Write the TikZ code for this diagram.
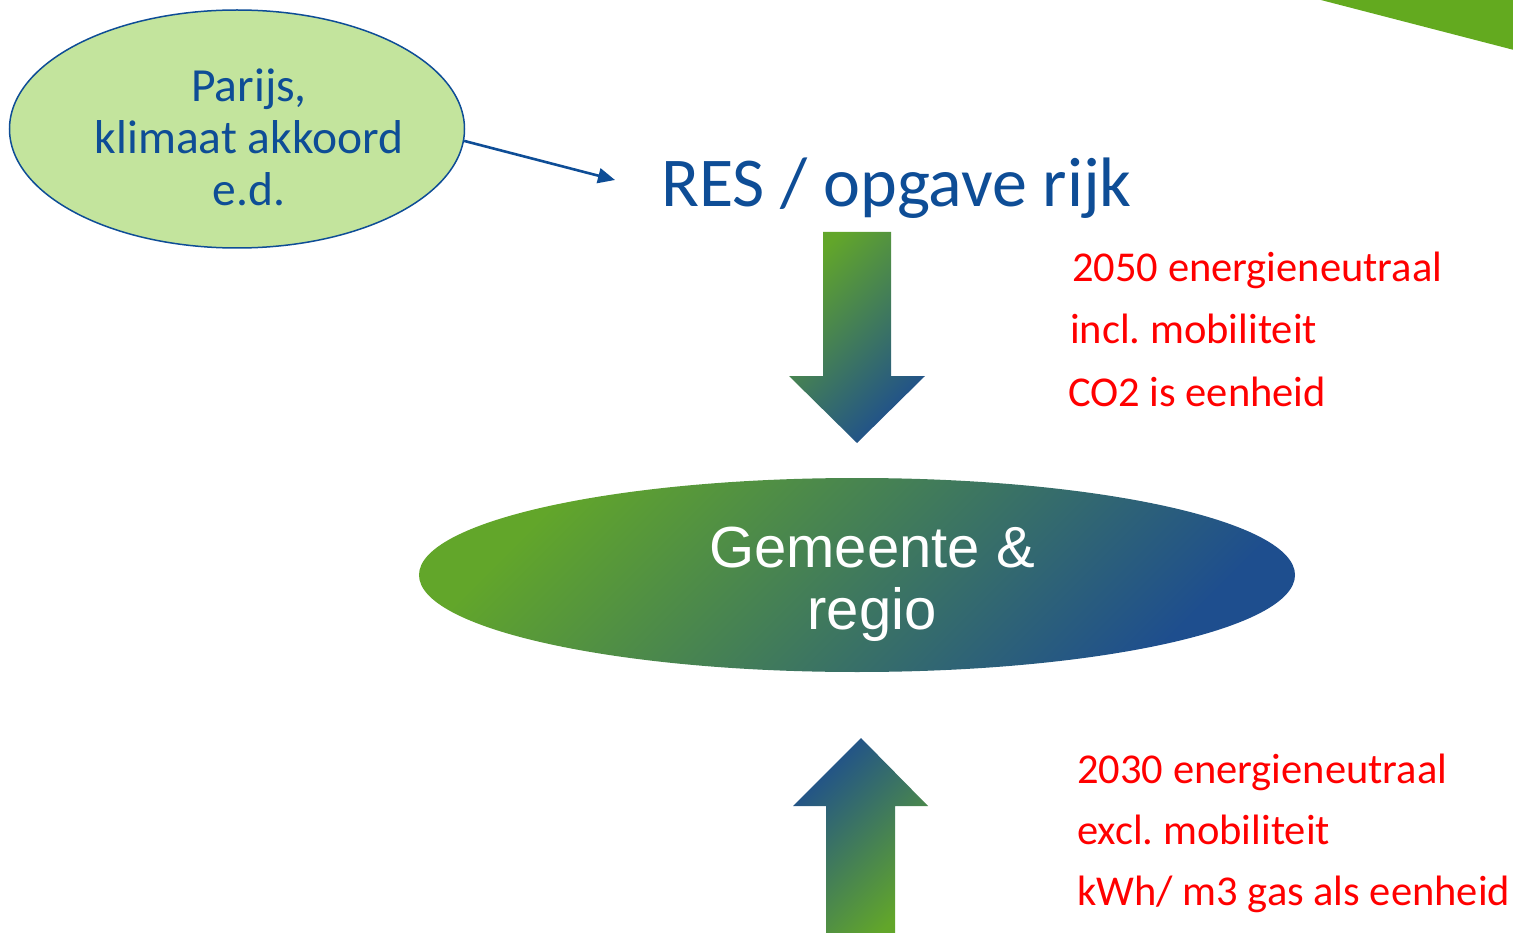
\documentclass[tikz,border=0pt]{standalone}
\usepackage{fontspec}
\setmainfont{Carlito}
\newfontfamily\arialf{Liberation Sans}
\usetikzlibrary{shapes.geometric,arrows.meta}
\frenchspacing
\definecolor{dblue}{RGB}{14,77,150}
\definecolor{lgreen}{RGB}{195,228,157}
\definecolor{grn}{RGB}{98,166,42}
\definecolor{blu}{RGB}{30,78,142}
\definecolor{cornergreen}{RGB}{99,170,31}
\definecolor{redtxt}{RGB}{255,0,0}
\tikzset{
  bluetxt/.style={text=dblue, inner sep=0pt},
  redline/.style={text=redtxt, inner sep=0pt, anchor=base west, font=\fontsize{42.5}{50}\selectfont},
}
\begin{document}
\begin{tikzpicture}[x=1pt,y=-1pt]
\frenchspacing
\useasboundingbox (0,0) rectangle (1513,933);
% corner triangle
\fill[cornergreen] (1317,-1) -- (1514,-1) -- (1514,50) -- cycle;
% Parijs ellipse
\node[ellipse, draw=dblue, line width=1.5pt, fill=lgreen, minimum width=455pt, minimum height=238pt, inner sep=0pt] (parijs) at (237,129) {};
\node[bluetxt, anchor=base, align=center, font=\fontsize{47.5}{52}\selectfont] (parijstxt) at (249,206) {Parijs,\\klimaat akkoord\\e.d.};
% RES
\node[bluetxt, anchor=base west, font=\fontsize{70}{84}\selectfont] (res) at (661,207) {RES / opgave rijk};
\coordinate (restip) at (615,180);
\draw[dblue, line width=2.6pt, -{Triangle[length=17pt,width=15pt]}] (parijs.-3.3) -- (restip);
% down arrow
\shade[top color=grn, bottom color=blu, shading angle=45]
  (823,232) -- (891,232) -- (891,376) -- (925,376) -- (857,443) -- (789,376) -- (823,376) -- cycle;
% central ellipse
\shade[top color=grn, bottom color=blu, shading angle=45] (857,575) ellipse [x radius=438, y radius=97];
\node[text=white, inner sep=0pt, anchor=base, align=center, font=\arialf\fontsize{58}{62}\selectfont] (gem) at (872,629) {Gemeente \&\\regio};
% up arrow
\shade[top color=blu, bottom color=grn, shading angle=45]
  (861,738) -- (928,806) -- (895,806) -- (895,934) -- (826,934) -- (826,806) -- (793,806) -- cycle;
% red texts
\node[redline] (r1) at (1072,282) {2050 energieneutraal};
\node[redline] (r2) at (1070,344) {incl. mobiliteit};
\node[redline] (r3) at (1068,406) {CO2 is eenheid};
\node[redline] (s1) at (1077,783) {2030 energieneutraal};
\node[redline] (s2) at (1077,844) {excl. mobiliteit};
\node[redline] (s3) at (1077,905) {kWh/ m3 gas als eenheid};
\end{tikzpicture}
\end{document}
